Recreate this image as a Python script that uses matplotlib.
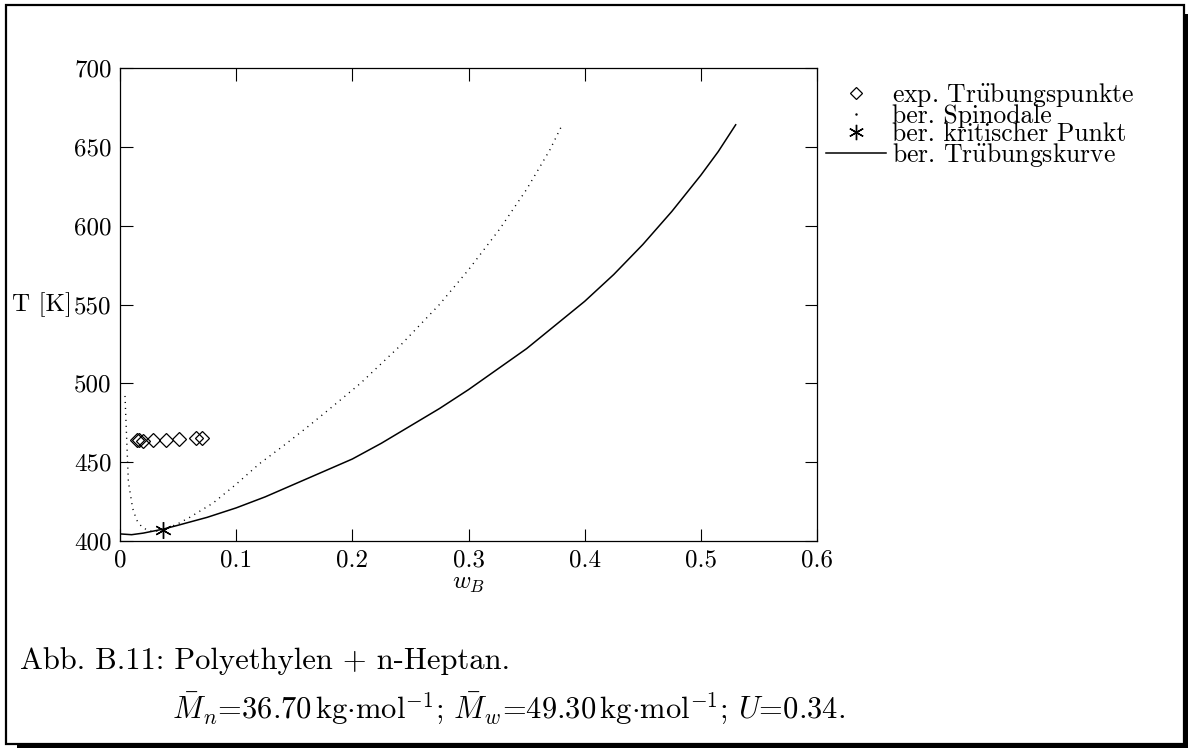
#!/usr/bin/env python3
# -*- coding: utf-8 -*-

import matplotlib
matplotlib.use('Agg')
import matplotlib.pyplot as plt
from matplotlib.lines import Line2D
from matplotlib.patches import Rectangle

# ----- data -----
# experimental cloud points
exp_w = [0.0144, 0.0166, 0.0195, 0.0287, 0.0396, 0.0505, 0.0654, 0.0703]
exp_T = [464.0, 464.0, 463.5, 464.0, 464.0, 464.5, 465.5, 465.5]

# calculated spinodal
spin_w = [0.0043, 0.0072, 0.0109, 0.0143, 0.0187, 0.0244, 0.030, 0.037, 0.050,
          0.060, 0.080, 0.100, 0.120, 0.140, 0.160, 0.180, 0.207, 0.240, 0.275,
          0.300, 0.327, 0.350, 0.370, 0.380]
spin_T = [492.0, 437.6, 420.7, 413.3, 409.0, 406.5, 406.0, 407.0, 411.0,
          415.0, 424.0, 436.0, 449.0, 460.0, 471.5, 483.5, 500.0, 523.0, 550.0,
          572.0, 598.0, 623.0, 648.0, 663.0]

# calculated critical point
crit_w = [0.0373]
crit_T = [407.0]

# calculated cloud point curve
cloud_w = [0.0, 0.01, 0.02, 0.037, 0.05, 0.075, 0.10, 0.125, 0.15, 0.175,
           0.20, 0.225, 0.25, 0.275, 0.30, 0.325, 0.35, 0.375, 0.40, 0.425,
           0.45, 0.475, 0.50, 0.515, 0.53]
cloud_T = [404.5, 404.0, 405.0, 407.5, 410.0, 415.0, 421.0, 428.0, 436.0, 444.0,
           452.0, 462.0, 473.0, 484.0, 496.0, 509.0, 522.0, 537.0, 552.0, 569.0,
           588.0, 609.0, 632.0, 647.0, 664.0]

xticks = [0, 0.1, 0.2, 0.3, 0.4, 0.5, 0.6]
xtick_labels = ['0', '0.1', '0.2', '0.3', '0.4', '0.5', '0.6']
yticks = [400, 450, 500, 550, 600, 650, 700]
ytick_labels = ['400', '450', '500', '550', '600', '650', '700']

UE = r'$\mathrm{\ddot{u}}$'  # cmr10 has no ü glyph
legend_labels = ['exp. Tr' + UE + 'bungspunkte', 'ber. Spinodale',
                 'ber. kritischer Punkt', 'ber. Tr' + UE + 'bungskurve']

caption_1 = 'Abb. B.11: Polyethylen + n-Heptan.'
caption_2 = (r'$\bar{M}_n$=36.70$\,$kg$\cdot$mol$^{-1}$; '
             r'$\bar{M}_w$=49.30$\,$kg$\cdot$mol$^{-1}$; $U$=0.34.')

plt.rcParams['font.family'] = ['cmr10', 'DejaVu Serif']
plt.rcParams['mathtext.fontset'] = 'cm'
plt.rcParams['axes.formatter.use_mathtext'] = True

W, H = 1188, 748
fig = plt.figure(figsize=(W / 100, H / 100), dpi=100)


def fx(px):
    return px / W


def fy(py):
    return 1 - py / H


# page box with shadow
fig.patches.append(Rectangle((fx(17), fy(748)), fx(1171), 4 / H, transform=fig.transFigure,
                             facecolor='black', edgecolor='none'))
fig.patches.append(Rectangle((fx(1184), fy(748)), 4 / W, (748 - 14) / H, transform=fig.transFigure,
                             facecolor='black', edgecolor='none'))
fig.patches.append(Rectangle((fx(6), fy(744)), fx(1178), (744 - 5) / H, transform=fig.transFigure,
                             facecolor='none', edgecolor='black', linewidth=1.6))

ax = fig.add_axes([fx(120), fy(541), fx(817 - 120), (541 - 68) / H])

ax.plot(exp_w, exp_T, linestyle='none', marker='D', markersize=7,
        markerfacecolor='none', markeredgecolor='black', markeredgewidth=0.9)
ax.plot(spin_w, spin_T, linestyle=(0, (0.8, 3.5)), color='black', linewidth=1.0)
ax.plot(crit_w, crit_T, linestyle='none', marker=(6, 2, 0), markersize=12,
        color='black', markeredgewidth=1.0)
ax.plot(cloud_w, cloud_T, '-', color='black', linewidth=1.1)

ax.set_xlim(0, 0.6)
ax.set_ylim(400, 700)
ax.set_xticks(xticks)
ax.set_xticklabels(xtick_labels)
ax.set_yticks(yticks)
ax.set_yticklabels(ytick_labels)
ax.tick_params(direction='in', length=9, width=0.8, top=True, right=True,
               labelsize=18, pad=6)
for sp in ax.spines.values():
    sp.set_linewidth(0.9)

ax.set_xlabel(r'$w_B$', fontsize=18, labelpad=1)
ax.set_ylabel('T [K]', fontsize=18, rotation=0, ha='left', va='center')
ax.yaxis.set_label_coords(-0.155, 0.5)

handles = [
    Line2D([], [], linestyle='none', marker='D', markersize=6.5,
           markerfacecolor='none', markeredgecolor='black', markeredgewidth=0.9),
    Line2D([], [], linestyle='none', marker='.', markersize=1.5, color='black'),
    Line2D([], [], linestyle='none', marker=(6, 2, 0), markersize=11,
           color='black', markeredgewidth=1.0),
    Line2D([], [], linestyle='-', color='black', linewidth=1.1),
]
fig.legend(handles, legend_labels, loc='upper left',
           bbox_to_anchor=(fx(826), fy(81)), frameon=False, fontsize=18.5,
           handlelength=2.35, handletextpad=0.2, labelspacing=-0.2,
           borderpad=0, borderaxespad=0)

fig.text(fx(20), fy(669), caption_1, fontsize=22, ha='left', va='baseline')
fig.text(fx(172), fy(718), caption_2, fontsize=22, ha='left', va='baseline')

fig.savefig('out.png', dpi=100)
